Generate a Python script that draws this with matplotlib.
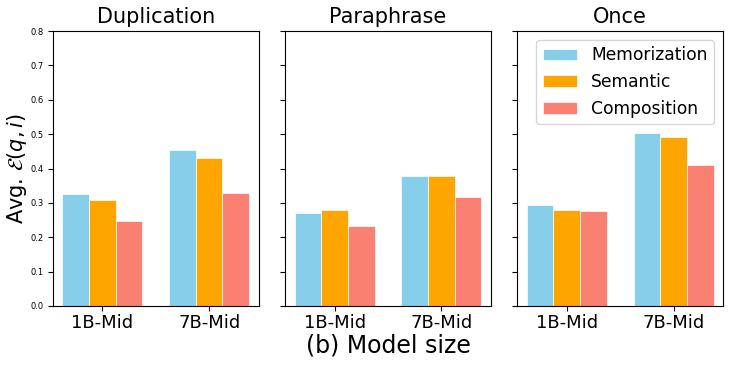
import matplotlib.pyplot as plt
import numpy as np

panels = ['Duplication', 'Paraphrase', 'Once']
models = ['1B-Mid', '7B-Mid']
series = ['Memorization', 'Semantic', 'Composition']
colors = ['skyblue', 'orange', 'salmon']

memorization = [[0.326, 0.454], [0.270, 0.377], [0.294, 0.502]]
semantic = [[0.308, 0.430], [0.278, 0.377], [0.278, 0.491]]
composition = [[0.247, 0.329], [0.232, 0.316], [0.276, 0.410]]

fig, axes = plt.subplots(1, 3, figsize=(7.31, 3.66), dpi=100, sharey=True)
x = np.arange(len(models))
w = 0.25
for i, ax in enumerate(axes):
    vals = [memorization[i], semantic[i], composition[i]]
    for j, name in enumerate(series):
        ax.bar(x + (j - 1) * w, vals[j], w, color=colors[j], label=name,
               edgecolor='white', linewidth=0.5)
    ax.set_title(panels[i], fontsize=15)
    ax.set_xticks(x)
    ax.set_xticklabels(models, fontsize=13)
    ax.set_ylim(0, 0.8)
    ax.tick_params(axis='y', labelsize=6)
    ax.tick_params(axis='x', pad=2)

axes[0].set_ylabel(r'Avg. $\mathcal{E}(q,i)$', fontsize=15, labelpad=1)
axes[2].legend(loc='upper right', fontsize=12.3)
left, right = 0.0725, 0.989
plt.subplots_adjust(left=left, right=right, top=0.915, bottom=0.164, wspace=0.13)
fig.text((left + right) / 2, 0.055, '(b) Model size', fontsize=17,
         ha='center', va='center')
plt.savefig('out.png')
